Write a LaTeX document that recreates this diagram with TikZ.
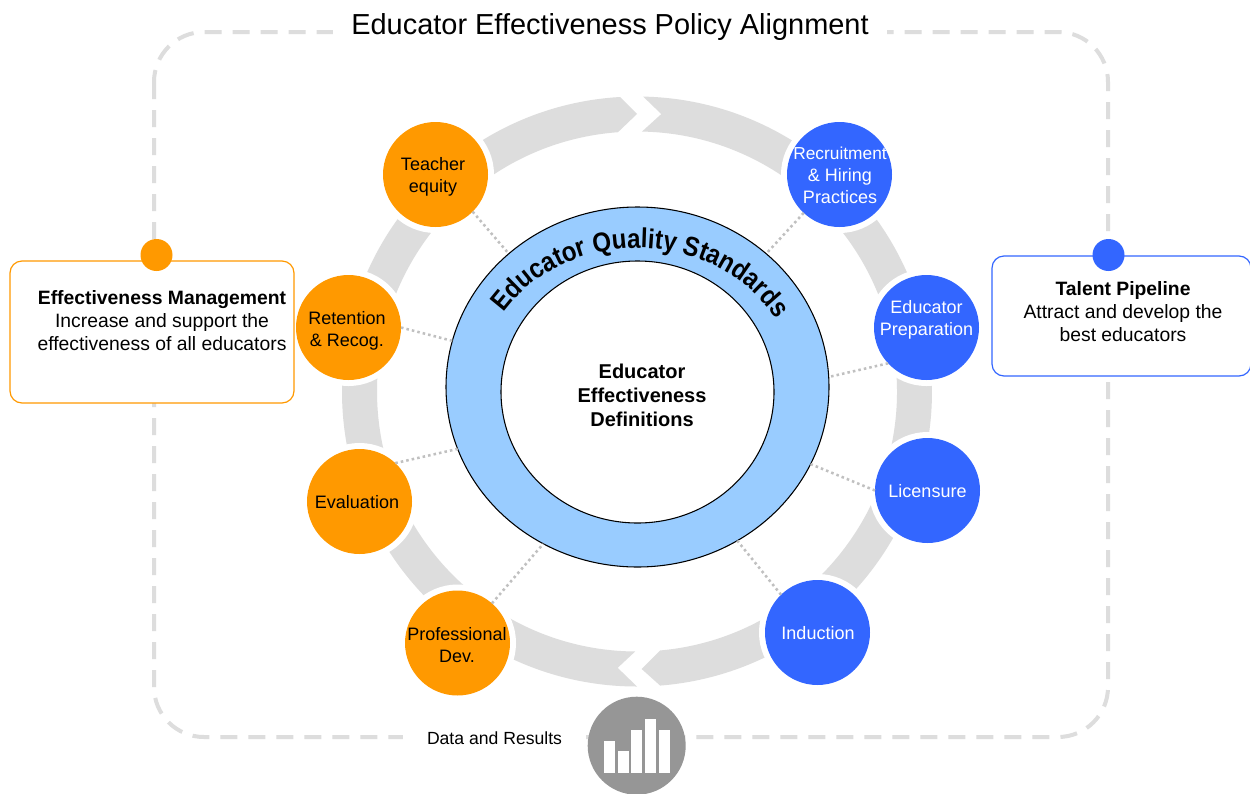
\documentclass[tikz,border=0pt]{standalone}
\usepackage{fontspec}
\setmainfont{Liberation Sans}
\usetikzlibrary{decorations.text,shapes.geometric}
\definecolor{orangec}{HTML}{FF9900}
\definecolor{bluec}{HTML}{3366FF}
\definecolor{ringc}{HTML}{99CCFF}
\definecolor{bandc}{HTML}{DDDDDD}
\definecolor{dotc}{HTML}{C0C0C0}
\definecolor{barc}{HTML}{969696}
\newfontfamily\ringfont[FakeStretch=0.88]{Liberation Sans Bold}
\newcommand{\bodyfont}{\fontsize{14.5}{17.25}\selectfont}
\newcommand{\stagefont}{\fontsize{13.5}{16.5}\selectfont}
\newcommand{\lbl}[3]{\makebox[0pt]{\hspace*{\dimexpr #1pt*3/2\relax}\raisebox{\dimexpr #2pt*3/4-5.6pt\relax}[0pt][0pt]{\begin{tabular}{@{}c@{}}#3\end{tabular}}}}
\tikzset{
  x=0.75pt,y=0.75pt,
  band/.style={fill=bandc,draw=none},
  stage/.style={circle,inner sep=0pt,outer sep=0pt,minimum size=78.75pt,font=\stagefont,
    preaction={draw=white,line width=9pt}},
  orangestage/.style={stage,fill=orangec,text=black},
  bluestage/.style={stage,fill=bluec,text=white},
  tie/.style={draw=dotc,line width=1.9pt,dash pattern=on 1.9pt off 2.3pt},
  frame/.style={draw=bandc,line width=3pt,dash pattern=on 12.75pt off 8.25pt,rounded corners=37.5pt},
  sidebox/.style={rectangle,rounded corners=9pt,fill=white,line width=0.9pt,inner sep=0pt,outer sep=0pt},
  dotmark/.style={circle,inner sep=0pt,outer sep=0pt,minimum size=24pt},
  sidetext/.style={align=center,font=\bodyfont,text=black,inner sep=0pt},
  ringshape/.style={ellipse,draw=black,line width=0.8pt,inner sep=0pt,outer sep=0pt},
}
\begin{document}
\begin{tikzpicture}
\useasboundingbox (0,0) rectangle (1250,-793);
\fill[white] (0,0) rectangle (1250,-793);
% dashed frame
\draw[frame] (154,-32) rectangle (1108,-737);
% circular arrows
\begin{scope}[shift={(637,-391.5)}]
\path[band] (88.8:295) arc (88.8:-85.5:295) -- (-89.05:277.5) -- (-84.9:260) arc (-84.9:88.9:260) -- (85:278.5) -- cycle;
\path[band] (-90:295) arc (-90:-266.7:295) -- (-270:277.5) -- (-265.8:260) arc (-265.8:-90.4:260) -- (-94:277) -- cycle;
\end{scope}
% central rings
\node[ringshape,fill=ringc,minimum width=287.25pt,minimum height=270pt] (ring) at (637.5,-387) {};
\node[ringshape,fill=white,minimum width=204.75pt,minimum height=196.5pt] (core) at (637.5,-392) {};
\path[decorate,decoration={text along path,text align=center,text={|\fontsize{20.5}{22}\ringfont|Educator Quality Standards}}]
  (637.5,-390) ++(155:160 and 142) arc[start angle=155,end angle=22,x radius=160,y radius=142];
\node[align=center,font=\fontsize{15}{18}\selectfont\bfseries,inner sep=0pt] (coretext) at (642,-395) {Educator\\Effectiveness\\Definitions};
% stages
\node[orangestage] (teacher) at (435.5,-174.5) {\lbl{-2.5}{0}{Teacher\\equity}};
\node[bluestage] (recruit) at (839.5,-174.5) {\lbl{0.5}{0}{{\fontsize{13}{16.5}\selectfont Recruitment}\\\& Hiring\\Practices}};
\node[bluestage] (prep) at (926.5,-327.5) {\lbl{0}{10.5}{Educator\\Preparation}};
\node[bluestage] (license) at (927.5,-490.5) {\lbl{0}{0}{Licensure}};
\node[bluestage] (induction) at (817.5,-632.5) {\lbl{0.5}{0}{Induction}};
\node[orangestage] (profdev) at (457.5,-643) {\lbl{-0.5}{-1}{Professional\\Dev.}};
\node[orangestage] (evaluation) at (359.5,-501.5) {\lbl{-2.5}{0}{Evaluation}};
\node[orangestage] (retention) at (348.5,-327.5) {\lbl{-1.5}{-0.5}{Retention\\\& Recog.}};
% dotted ties
\draw[tie] (teacher.-45) -- (ring.134);
\draw[tie] (recruit.227) -- (ring.46.2);
\draw[tie] (prep.223) -- (ring.3.3);
\draw[tie] (license.180) -- (ring.-24.9);
\draw[tie] (induction.134) -- (ring.-57.2);
\draw[tie] (profdev.49) -- (ring.-121.8);
\draw[tie] (evaluation.47) -- (ring.199);
\draw[tie] (retention.0) -- (ring.166.7);
% title and data label
\node[fill=white,inner xsep=13.5pt,inner ysep=2pt,font=\fontsize{21.7}{24}\selectfont] (title) at (610,-27) {Educator Effectiveness Policy Alignment};
\node[fill=white,inner xsep=18pt,inner ysep=3pt,font=\fontsize{13.2}{16}\selectfont] (datalabel) at (494.5,-738) {Data and Results};
% side boxes
\node[sidebox,draw=orangec,minimum width=213pt,minimum height=106.5pt] (leftbox) at (152,-332) {};
\node[sidebox,draw=bluec,minimum width=194.25pt,minimum height=90pt] (rightbox) at (1121.5,-316) {};
\node[dotmark,fill=orangec] (leftdot) at (156.5,-255) {};
\node[dotmark,fill=bluec] (rightdot) at (1108.5,-255) {};
\node[sidetext] (lefttext) at (162,-321) {\textbf{Effectiveness Management}\\Increase and support the\\effectiveness of all educators};
\node[sidetext] (righttext) at (1123,-311.5) {\textbf{Talent Pipeline}\\Attract and develop the\\best educators};
% data icon
\node[circle,fill=barc,inner sep=0pt,outer sep=0pt,minimum size=73.5pt] (data) at (636.7,-745.7) {};
\fill[white] (604,-773) rectangle (615,-740.7);
\fill[white] (617.7,-773) rectangle (628.7,-751.3);
\fill[white] (631.3,-773) rectangle (642.3,-729.7);
\fill[white] (645,-773) rectangle (656,-718.7);
\fill[white] (658.7,-773) rectangle (669.7,-729.7);
\end{tikzpicture}
\end{document}
